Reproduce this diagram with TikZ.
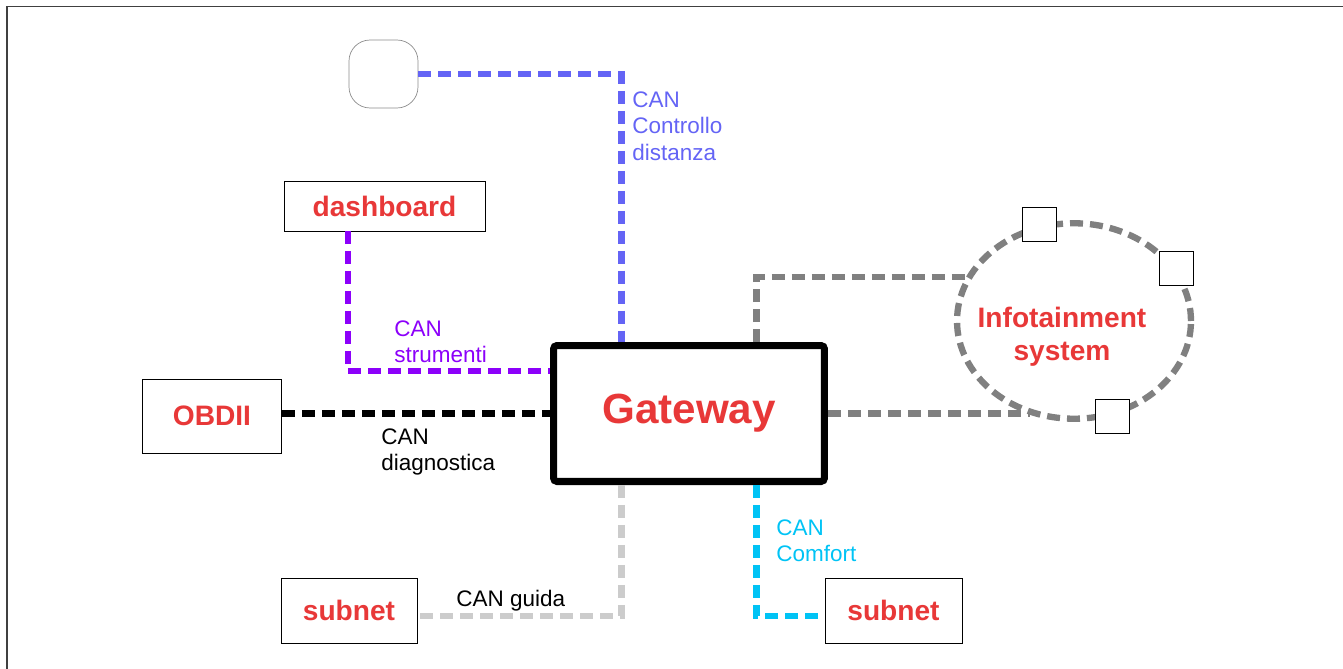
\documentclass[tikz,border=0pt]{standalone}
\usepackage{fontspec}
\setmainfont{Liberation Sans}
\usetikzlibrary{shapes.geometric}
\definecolor{gwred}{RGB}{232,56,56}
\definecolor{canblue}{RGB}{100,100,245}
\definecolor{canpurple}{RGB}{140,0,250}
\definecolor{cancyan}{RGB}{0,195,245}
\definecolor{cangrey}{RGB}{128,128,128}
\definecolor{canlight}{RGB}{204,204,204}
\tikzset{
  bus/.style={line width=3.6pt, dash pattern=on 0.26cm off 0.14cm},
  ecu/.style={draw, thin, fill=white, inner sep=0pt, text=gwred,
    font=\fontsize{16}{19}\selectfont\bfseries},
  port/.style={draw, thin, fill=white, inner sep=0pt, minimum size=0.68cm},
  buslabel/.style={anchor=north west, inner sep=0pt, align=left,
    font=\fontsize{12.8}{15.3}\selectfont},
}

\begin{document}
\begin{tikzpicture}[x=0.02cm,y=-0.02cm]
\useasboundingbox (0,0) rectangle (1343,669);
\draw[line width=1pt, black!75] (7,669) -- (7,6.5) -- (1343,6.5);

\node[draw=black!45, thin, minimum width=1.38cm, minimum height=1.36cm, rounded corners=0.42cm] (acc) at (383.5,74) {};
\node[ecu, minimum width=4.02cm, minimum height=1cm] (dash) at (384.5,206) {dashboard};
\node[ecu, minimum width=2.78cm, minimum height=1.48cm] (obd) at (212,416) {OBDII};
\node[ecu, minimum width=2.72cm, minimum height=1.3cm] (sub1) at (349,610.5) {subnet};
\node[ecu, minimum width=2.74cm, minimum height=1.3cm] (sub2) at (893.5,610.5) {subnet};
\node[draw, line width=4pt, rounded corners=2pt, inner sep=0pt, minimum width=5.42cm, minimum height=2.72cm,
  text=gwred, font=\fontsize{24}{28}\selectfont\bfseries] (gw) at (689,413.5) {Gateway};
\node[ellipse, bus, draw=cangrey, inner sep=0pt, minimum width=4.68cm, minimum height=3.91cm] (info) at (1074,321) {};
\node[align=center, inner sep=0pt, text=gwred, font=\fontsize{16}{18.7}\selectfont\bfseries] (infotxt) at (1062,337) {Infotainment\\system};

\draw[bus, canblue] (acc.east) -| ([xshift=-1.35cm]gw.north);
\draw[bus, canpurple] ([xshift=-0.73cm]dash.south) |- ([yshift=0.85cm]gw.west);
\draw[bus, black] (obd.east |- gw.west) -- (gw.west);
\draw[bus, canlight] ([xshift=-1.35cm]gw.south) |- ([yshift=-0.11cm]sub1.east);
\draw[bus, cancyan] ([xshift=1.35cm]gw.south) |- ([yshift=-0.11cm]sub2.west);
\draw[bus, cangrey] ([xshift=1.35cm]gw.north) |- (info.158);
\draw[bus, cangrey] (gw.east) -- (gw.east -| info.245);

\node[port] (p1) at (info.110) {};
\node[port] (p2) at (info.27) {};
\node[port] (p3) at (info.292) {};

\node[buslabel, text=canblue] (lacc) at (632,91) {CAN\\Controllo\\distanza};
\node[buslabel, text=canpurple] (ldash) at (394,320) {CAN\\strumenti};
\node[buslabel] (lobd) at (381,428) {CAN\\diagnostica};
\node[buslabel, text=cancyan] (lcomf) at (776,519) {CAN\\Comfort};
\node[buslabel] (lguida) at (456,590) {CAN guida};
\end{tikzpicture}
\end{document}
